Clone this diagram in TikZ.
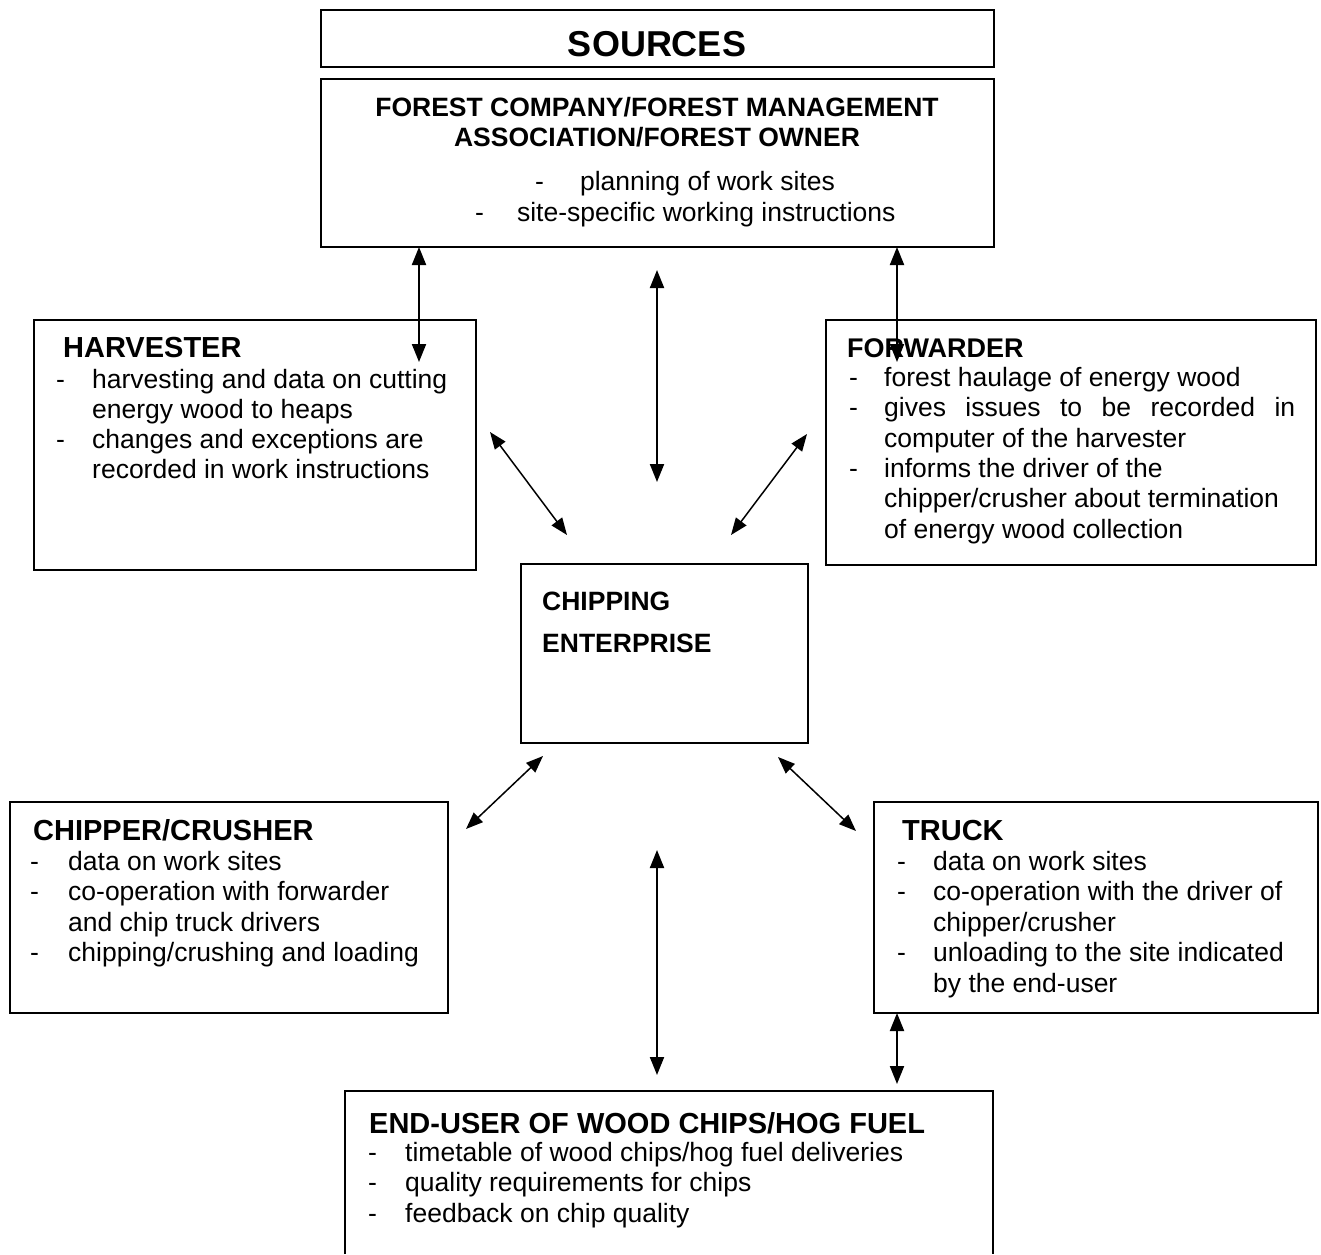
\documentclass[tikz,border=0pt]{standalone}
\usepackage{fontspec}
\setmainfont{Liberation Sans}
\usetikzlibrary{arrows.meta}

\begin{document}
\begin{tikzpicture}[x=1pt,y=-1pt,
  box/.style={draw, line width=1.6pt, inner sep=0pt, outer sep=0pt, anchor=north west},
  ttl/.style={font=\fontsize{29}{33}\selectfont\bfseries, anchor=base west, inner sep=0pt},
  subttl/.style={font=\fontsize{26.5}{30}\selectfont\bfseries, inner sep=0pt},
  txt/.style={font=\fontsize{26.5}{30}\selectfont, anchor=base west, inner sep=0pt},
  link/.style={{Triangle[length=18pt,width=14pt]}-{Triangle[length=18pt,width=14pt]}, line width=2pt},
  slant/.style={{Triangle[length=17pt,width=13pt]}-{Triangle[length=17pt,width=13pt]}, line width=1.5pt}]

\useasboundingbox (0,0) rectangle (1321,1254);

% ---- boxes ----
\node[box, minimum width=673pt, minimum height=57pt]  (sources)   at (321,10)  {};
\node[box, minimum width=673pt, minimum height=168pt] (forest)    at (321,79)  {};
\node[box, minimum width=442pt, minimum height=250pt] (harvester) at (34,320)  {};
\node[box, minimum width=490pt, minimum height=245pt] (forwarder) at (826,320) {};
\node[box, minimum width=287pt, minimum height=179pt] (chipping)  at (521,564) {};
\node[box, minimum width=438pt, minimum height=211pt] (chipper)   at (10,802)  {};
\node[box, minimum width=444pt, minimum height=211pt] (truck)     at (874,802) {};
\node[inner sep=0pt, outer sep=0pt, anchor=north west, minimum width=648pt, minimum height=163pt] (enduser) at (345,1091) {};
\draw[line width=1.6pt] (enduser.south west) |- (enduser.north east) -- (enduser.south east);

% ---- sources ----
\node[font=\fontsize{36}{40}\selectfont\bfseries, anchor=base, inner sep=0pt] (srcT) at (657,56) {SOURCES};

% ---- forest company ----
\node[subttl, anchor=base] (forT1) at (657,116) {FOREST COMPANY/FOREST MANAGEMENT};
\node[subttl, anchor=base] (forT2) at (657,146) {ASSOCIATION/FOREST OWNER};
\node[txt] (forL1) at (535,190) {-\hspace{36pt}planning of work sites};
\node[txt] (forL2) at (475,221) {-\hspace{33pt}site-specific working instructions};

% ---- harvester ----
\node[ttl] (harT) at (63,357) {HARVESTER};
\node[txt] (harD1) at (56,388) {-};
\node[txt] (harL1) at (92,388) {harvesting and data on cutting};
\node[txt] (harL2) at (92,418) {energy wood to heaps};
\node[txt] (harD2) at (56,448) {-};
\node[txt] (harL3) at (92,448) {changes and exceptions are};
\node[txt] (harL4) at (92,478) {recorded in work instructions};

% ---- forwarder ----
\node[ttl, font=\fontsize{27}{31}\selectfont\bfseries] (fwdT) at (847,357) {FORWARDER};
\node[txt] (fwdD1) at (849,386) {-};
\node[txt] (fwdL1) at (884,386) {forest haulage of energy wood};
\node[txt] (fwdD2) at (849,416) {-};
\node[txt] (fwdL2) at (884,416) {\makebox[411pt][s]{gives issues to be recorded in}};
\node[txt] (fwdL3) at (884,447) {computer of the harvester};
\node[txt] (fwdD3) at (849,477) {-};
\node[txt] (fwdL4) at (884,477) {informs the driver of the};
\node[txt] (fwdL5) at (884,507) {chipper/crusher about termination};
\node[txt] (fwdL6) at (884,538) {of energy wood collection};

% ---- chipping enterprise ----
\node[subttl, anchor=base west] (chpT1) at (542,610) {CHIPPING};
\node[subttl, anchor=base west] (chpT2) at (542,652) {ENTERPRISE};

% ---- chipper/crusher ----
\node[ttl] (crT) at (33,840) {CHIPPER/CRUSHER};
\node[txt] (crD1) at (30,870) {-};
\node[txt] (crL1) at (68,870) {data on work sites};
\node[txt] (crD2) at (30,900) {-};
\node[txt] (crL2) at (68,900) {co-operation with forwarder};
\node[txt] (crL3) at (68,931) {and chip truck drivers};
\node[txt] (crD3) at (30,961) {-};
\node[txt] (crL4) at (68,961) {chipping/crushing and loading};

% ---- truck ----
\node[ttl] (trT) at (902,840) {TRUCK};
\node[txt] (trD1) at (897,870) {-};
\node[txt] (trL1) at (933,870) {data on work sites};
\node[txt] (trD2) at (897,900) {-};
\node[txt] (trL2) at (933,900) {co-operation with the driver of};
\node[txt] (trL3) at (933,931) {chipper/crusher};
\node[txt] (trD3) at (897,961) {-};
\node[txt] (trL4) at (933,961) {unloading to the site indicated};
\node[txt] (trL5) at (933,992) {by the end-user};

% ---- end-user ----
\node[ttl] (euT) at (369,1133) {END-USER OF WOOD CHIPS/HOG FUEL};
\node[txt] (euD1) at (368,1161) {-};
\node[txt] (euL1) at (405,1161) {timetable of wood chips/hog fuel deliveries};
\node[txt] (euD2) at (368,1191) {-};
\node[txt] (euL2) at (405,1191) {quality requirements for chips};
\node[txt] (euD3) at (368,1222) {-};
\node[txt] (euL3) at (405,1222) {feedback on chip quality};

% ---- connector ends ----
\coordinate (fH)  at (forest.south -| 419,0);
\coordinate (hF)  at (419,362);
\coordinate (fC)  at (657,270);
\coordinate (cF)  at (657,482);
\coordinate (fW)  at (forest.south -| 897,0);
\coordinate (wF)  at (897,362);
\coordinate (hC)  at (490,432);
\coordinate (cH)  at (567,535);
\coordinate (wC)  at (807,434);
\coordinate (cW)  at (731,535);
\coordinate (cR)  at (543,756);
\coordinate (rC)  at (466,829);
\coordinate (cT)  at (778,757);
\coordinate (tC)  at (856,831);
\coordinate (cE)  at (657,850);
\coordinate (eC)  at (657,1075);
\coordinate (tE)  at (truck.south -| 897,0);
\coordinate (eT)  at (897,1084);

% ---- connectors ----
\draw[link]  (fH) -- (hF);
\draw[link]  (fC) -- (cF);
\draw[link]  (fW) -- (wF);
\draw[slant] (hC) -- (cH);
\draw[slant] (wC) -- (cW);
\draw[slant] (cR) -- (rC);
\draw[slant] (cT) -- (tC);
\draw[link]  (cE) -- (eC);
\draw[link]  (tE) -- (eT);
\end{tikzpicture}
\end{document}
